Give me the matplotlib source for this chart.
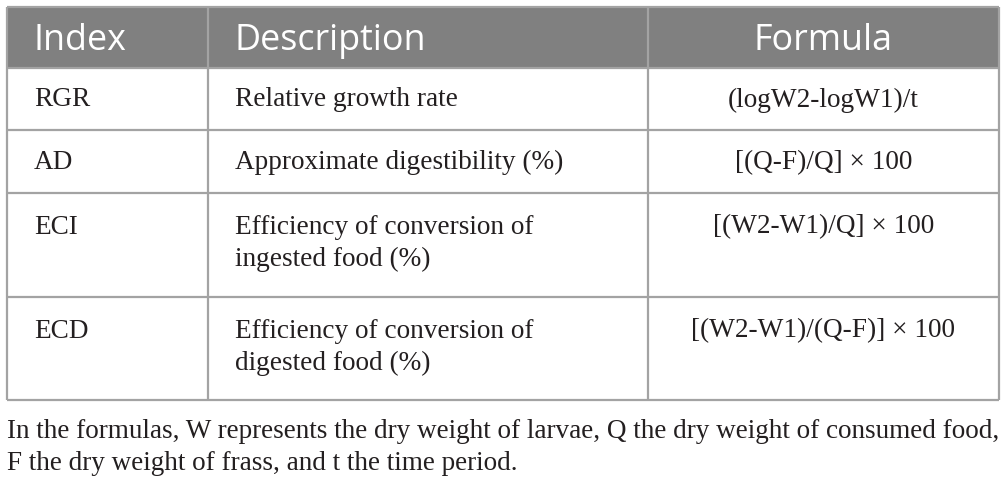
import matplotlib
matplotlib.use('Agg')
import matplotlib.pyplot as plt
from matplotlib.patches import Rectangle

headers = ['Index', 'Description', 'Formula']
indices = ['RGR', 'AD', 'ECI', 'ECD']
descriptions = ['Relative growth rate',
                'Approximate digestibility (%)',
                'Efficiency of conversion of\ningested food (%)',
                'Efficiency of conversion of\ndigested food (%)']
formulas = ['(logW2-logW1)/t',
            '[(Q-F)/Q] \u00d7 100',
            '[(W2-W1)/Q] \u00d7 100',
            '[(W2-W1)/(Q-F)] \u00d7 100']
footnote = ('In the formulas, W represents the dry weight of larvae, Q the dry weight of consumed food,\n'
            'F the dry weight of frass, and t the time period.')

W, H = 1006, 492
left, right = 7, 999
col_x = [7, 208, 648, 999]
row_y = [7, 68, 130, 193, 297, 400]

line_col = '#a3a3a3'
head_col = '#808080'
txt_col = '#231f20'
serif = 'Liberation Serif'
sans = 'Open Sans'

fig = plt.figure(figsize=(W / 100, H / 100), dpi=100)
ax = fig.add_axes([0, 0, 1, 1])
ax.set_xlim(0, W)
ax.set_ylim(H, 0)
ax.axis('off')

# header band
ax.add_patch(Rectangle((left, row_y[0]), right - left, row_y[1] - row_y[0],
                       facecolor=head_col, edgecolor='none'))

# grid lines
for y in row_y:
    ax.plot([left, right], [y, y], color=line_col, lw=1.6, solid_capstyle='butt')
for x in col_x:
    ax.plot([x, x], [row_y[0], row_y[-1]], color=line_col, lw=1.6, solid_capstyle='butt')

# header text (baseline placed so caps sit centred in the band)
hfs = 25.8
hy = row_y[1] - 18
ax.text(col_x[0] + 27, hy, headers[0], color='white', fontsize=hfs, family=sans, va='baseline')
ax.text(col_x[1] + 27, hy, headers[1], color='white', fontsize=hfs, family=sans, va='baseline')
ax.text((col_x[2] + col_x[3]) / 2, hy, headers[2], color='white', fontsize=hfs,
        family=sans, va='baseline', ha='center')

# body
fs = 19.6
for i, (ind, desc, form) in enumerate(zip(indices, descriptions, formulas)):
    top, bot = row_y[i + 1], row_y[i + 2]
    if '\n' in desc:
        y0 = top + 34
        ax.text(col_x[0] + 27, y0, ind, fontsize=fs, family=serif, color=txt_col, va='center')
        for k, part in enumerate(desc.split('\n')):
            ax.text(col_x[1] + 27, y0 + 32 * k, part, fontsize=fs, family=serif,
                    color=txt_col, va='center')
        ax.text((col_x[2] + col_x[3]) / 2, y0, form, fontsize=fs, family=serif,
                color=txt_col, va='center', ha='center')
    else:
        yc = (top + bot) / 2 + 1
        ax.text(col_x[0] + 27, yc, ind, fontsize=fs, family=serif, color=txt_col, va='center')
        ax.text(col_x[1] + 27, yc, desc, fontsize=fs, family=serif, color=txt_col, va='center')
        ax.text((col_x[2] + col_x[3]) / 2, yc, form, fontsize=fs, family=serif,
                color=txt_col, va='center', ha='center')

# footnote
for k, part in enumerate(footnote.split('\n')):
    ax.text(left, 431 + 32 * k, part, fontsize=19.5, family=serif, color=txt_col, va='center')

fig.savefig('out.png', dpi=100)
